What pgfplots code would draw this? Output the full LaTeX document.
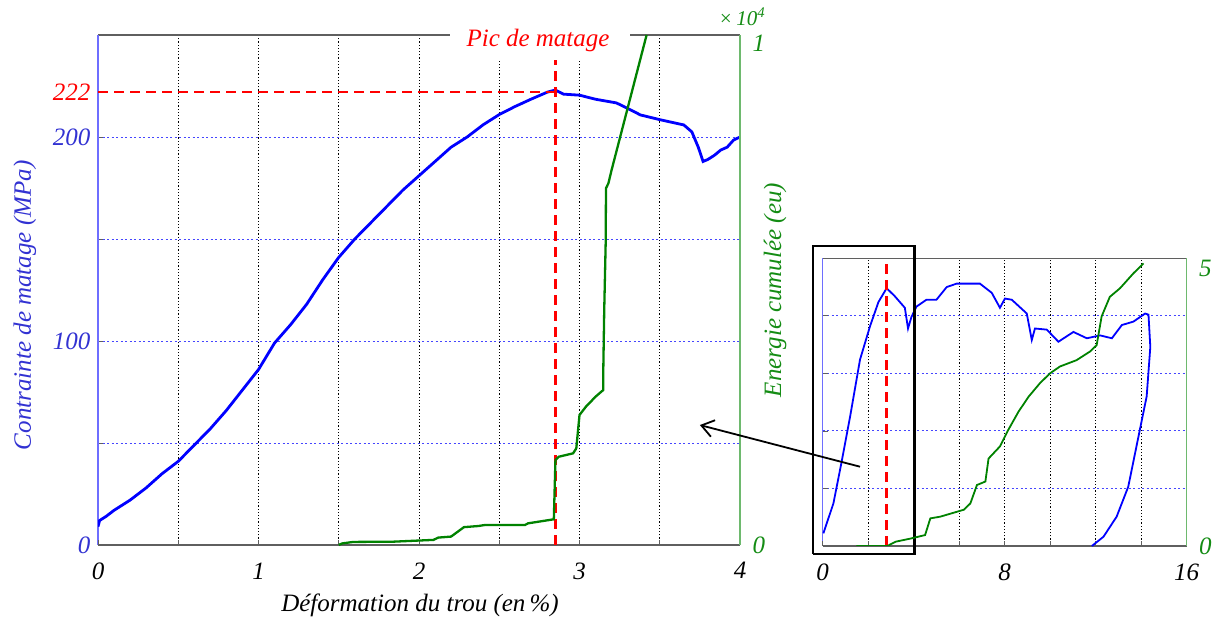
\documentclass[border=0pt]{standalone}
\usepackage{fontspec}
\setmainfont{Liberation Serif}
\usepackage{pgfplots}
\pgfplotsset{compat=1.18}
\usetikzlibrary{arrows.meta}

\definecolor{axblue}{RGB}{110,110,255}
\definecolor{axgreen}{RGB}{110,185,110}
\definecolor{gridblue}{RGB}{70,70,255}
\definecolor{lblblue}{RGB}{50,50,210}
\definecolor{curvegreen}{RGB}{0,130,0}
\definecolor{lblgreen}{RGB}{20,140,20}
\definecolor{frame}{RGB}{95,95,95}

\newcommand{\tickfont}{\fontsize{25bp}{28bp}\selectfont\itshape}
\newcommand{\labfont}{\fontsize{25bp}{28bp}\selectfont\itshape}

\pgfplotsset{
  base/.style={
    scale only axis, anchor=south west,
    tick align=inside, major tick length=5bp,
    tick style={frame, line width=0.8bp},
    ticklabel style={font=\tickfont},
    /pgf/number format/assume math mode=true,
    x grid style={black, line width=0.9bp, dash pattern=on 1.2bp off 2bp},
    y grid style={gridblue, line width=0.9bp, dash pattern=on 2bp off 2.5bp},
  },
  stress/.style={
    base, separate axis lines, tick pos=left, grid=major,
    x axis line style={frame, line width=1.3bp},
    y axis line style={axblue, line width=1.3bp},
    ymin=0, ymax=250,
    yticklabel style={lblblue, xshift=-4bp},
    xticklabel style={black, yshift=-14bp},
    extra x tick style={grid=none}, extra y tick style={grid=none},
  },
  energy/.style={
    base, axis x line=none, axis y line*=right,
    y axis line style={-, axgreen, line width=1.3bp},
    major tick length=0pt, scaled y ticks=false,
    yticklabel style={lblgreen, xshift=9bp},
  },
}

% contrainte de matage (MPa) vs deformation (%)
\pgfplotstableread{
x s
0 9
0.01 12
0.05 14
0.1 17
0.2 22
0.3 28
0.4 35
0.5 41
0.6 49
0.7 57
0.8 66
0.9 76
1.0 86
1.1 99
1.2 108
1.3 118
1.4 130
1.5 141
1.6 150
1.7 158
1.8 166
1.9 174
2.0 181
2.1 188
2.2 195
2.3 200
2.4 206
2.5 211
2.6 215
2.7 218.6
2.8 222
2.85 223
2.9 221
3.0 220.5
3.1 218.5
3.23 216.7
3.3 214
3.38 210.8
3.5 208.5
3.65 205.9
3.70 202.5
3.74 195
3.77 188
3.80 189
3.84 191
3.88 193.6
3.92 195
3.96 198.5
4.0 200
}\mainstress

% energie cumulee (eu)
\pgfplotstableread{
x e
1.5 0
1.52 30
1.59 60
1.84 65
2.09 100
2.12 145
2.2 165
2.28 350
2.37 372
2.41 392
2.66 392
2.68 425
2.84 504
2.85 1667
2.87 1730
2.96 1797
2.98 1895
3.0 2550
3.04 2712
3.10 2908
3.148 3039
3.148 3398
3.154 4608
3.163 5916
3.165 6994
3.18 7092
3.20 7353
3.418 10000
}\mainenergy

\pgfplotstableread{
x s
0.03 11
0.47 37
0.82 72
1.2 112
1.64 162
2.08 191
2.45 212
2.81 224
3.17 217
3.61 207
3.75 189
3.90 199
4.12 208
4.56 214
5.0 214
5.45 225
5.89 228
6.91 228
7.43 220
7.79 207
8.01 215
8.31 214
8.97 202
9.19 179
9.33 189
9.85 188
10.36 177.5
11.02 186
11.61 180.5
12.19 183
12.71 180.5
13.15 192
13.66 195
14.17 202
14.32 201
14.4 173
14.24 130
13.94 101
13.43 51.5
12.92 25.5
12.34 8
11.83 0
}\insetstress

\pgfplotstableread{
x e
1.48 0
2.84 0
3.21 7500
3.87 13000
4.5 19000
4.73 48000
5.17 51000
6.2 63000
6.49 74000
6.78 106000
7.15 112000
7.29 152000
7.79 173000
8.16 202000
8.6 233000
9.04 259000
9.55 283000
9.99 300000
10.43 312000
11.16 323000
11.75 338000
12.04 349000
12.26 399000
12.62 433000
13.07 448000
13.66 474000
14.1 491000
}\insetenergy

\begin{document}
\begin{tikzpicture}[x=1bp,y=1bp]
\path[use as bounding box] (0,0) rectangle (1226,621);

% ---- main plot, left axis
\begin{axis}[stress, at={(98bp,76bp)}, width=642bp, height=510bp,
  xmin=0, xmax=4,
  xtick={0.5,1,1.5,2,2.5,3,3.5}, xticklabels={,1,,2,,3,},
  extra x ticks={0,4}, extra x tick labels={0,4},
  ytick={50,100,150,200}, yticklabels={,100,,200},
  extra y ticks={0,222}, extra y tick labels={0,\textcolor{red}{222}},
  xlabel={Déformation du trou (en\,\%)},
  ylabel={Contrainte de matage (MPa)},
  xlabel style={font=\labfont, at={(axis description cs:0.5016,-0.118)}, anchor=center},
  ylabel style={font=\labfont, lblblue, at={(axis description cs:-0.114,0.47)}, anchor=center},
]
\addplot[blue, line width=2.8bp] table[x=x, y=s] {\mainstress};
\addplot[red, line width=2.4bp, dash pattern=on 10bp off 6bp] coordinates {(0,222) (2.85,222)};
\addplot[red, line width=2.4bp, dash pattern=on 10bp off 6bp] coordinates {(2.85,0) (2.85,250)};
\coordinate (tip) at (axis cs:3.75,58.8);
\end{axis}

% ---- main plot, right axis
\begin{axis}[energy, at={(98bp,76bp)}, width=642bp, height=510bp,
  xmin=0, xmax=4, ymin=0, ymax=10000,
  ytick={0,10000}, yticklabels={0,\raisebox{-17bp}[0pt][0pt]{1}},
  ylabel={Energie cumulée (eu)},
  ylabel style={font=\labfont, lblgreen, at={(axis description cs:1.0545,0.5)}, anchor=center},
  clip=false,
]
\addplot[curvegreen, line width=2.3bp] table[x=x, y=e] {\mainenergy};
\fill[white] (rel axis cs:0.548,0.951) rectangle (rel axis cs:0.8287,1.03);
\node[red, font=\fontsize{25bp}{28bp}\selectfont\itshape, anchor=base]
  at (rel axis cs:0.6854,0.978) {Pic de matage};
\node[lblgreen, font=\fontsize{21bp}{24bp}\selectfont\itshape, anchor=center]
  at (rel axis cs:1.003,1.036) {×\,10\textsuperscript{4}};
\end{axis}

% ---- inset, left axis
\begin{axis}[stress, at={(822.7bp,75bp)}, width=364bp, height=287.7bp,
  xmin=0, xmax=16,
  xtick={2,4,6,8,10,12,14}, xticklabels={,,,8,,,},
  extra x ticks={0,16}, extra x tick labels={0,16},
  ytick={50,100,150,200}, yticklabels={},
  clip=false,
]
\addplot[blue, line width=1.8bp] table[x=x, y=s] {\insetstress};
\addplot[red, line width=2.4bp, dash pattern=on 10bp off 6bp] coordinates {(2.81,0) (2.81,250)};
\addplot[black, line width=2.4bp] coordinates {(-0.44,-7) (4.03,-7) (4.03,260.7) (-0.44,260.7) (-0.44,-7)};
\coordinate (tail) at (axis cs:1.64,68.9);
\end{axis}

% ---- inset, right axis
\begin{axis}[energy, at={(822.7bp,75bp)}, width=364bp, height=287.7bp,
  xmin=0, xmax=16, ymin=0, ymax=500000,
  ytick={0,500000}, yticklabels={0,\raisebox{-18bp}[0pt][0pt]{5}},
]
\addplot[curvegreen, line width=1.8bp] table[x=x, y=e] {\insetenergy};
\node[lblgreen, font=\fontsize{21bp}{24bp}\selectfont\itshape, anchor=center]
  at (rel axis cs:1.0255,1.05) {×\,10\textsuperscript{5}};
\end{axis}

% arrow from the inset box to the main plot
\draw[black, line width=1.8bp, -{Straight Barb[length=12bp,width=17bp,line width=1.8bp]}]
  (tail) -- (tip);
\end{tikzpicture}
\end{document}
